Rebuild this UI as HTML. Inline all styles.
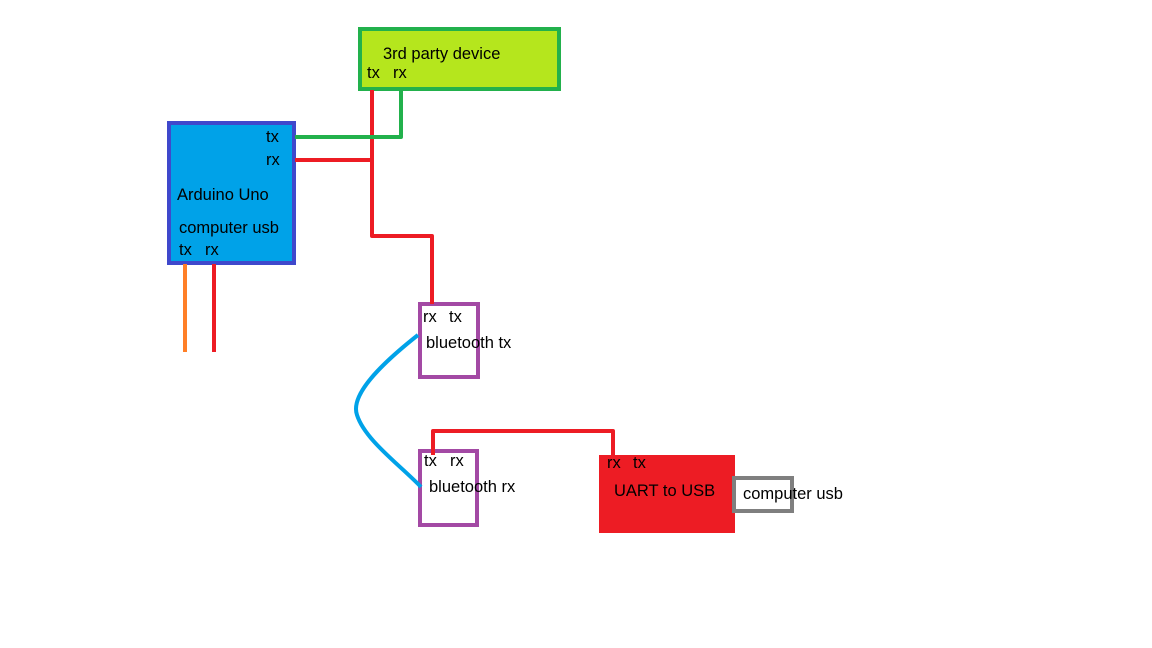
<!DOCTYPE html>
<html><head><style>
body{margin:0;width:1152px;height:648px;background:#fff;position:relative;overflow:hidden;font-family:"Liberation Sans",sans-serif;font-size:16.5px;color:#000}
.b{position:absolute;box-sizing:border-box}
.t{position:absolute;white-space:nowrap;line-height:18px}
svg{position:absolute;left:0;top:0}
</style></head><body>
<div class="b" style="left:358px;top:27px;width:203px;height:64px;background:#b5e61d;border:4px solid #22b14c"></div>
<div class="b" style="left:167px;top:121px;width:129px;height:144px;background:#00a2e8;border:4px solid #3f48cc"></div>
<div class="b" style="left:418px;top:302px;width:62px;height:77px;border:4px solid #a349a4"></div>
<div class="b" style="left:418px;top:449px;width:61px;height:78px;border:4px solid #a349a4"></div>
<div class="b" style="left:599px;top:455px;width:136px;height:78px;background:#ed1c24"></div>
<div class="b" style="left:732px;top:476px;width:62px;height:37px;border:4px solid #7f7f7f;background:#fff"></div>
<svg width="1152" height="648">
<g fill="none" stroke-width="4" stroke-linejoin="round">
<polyline points="372,90 372,236 432,236 432,304" stroke="#ed1c24"/>
<polyline points="401,90 401,137 295,137" stroke="#22b14c"/>
<polyline points="295,160 374,160" stroke="#ed1c24"/>
<line x1="185" y1="264" x2="185" y2="352" stroke="#ff7f27"/>
<line x1="214" y1="264" x2="214" y2="352" stroke="#ed1c24"/>
<polyline points="433,455 433,431 613,431 613,456" stroke="#ed1c24"/>
<path d="M418,335 C380,365 350,395 357,415 C365,440 400,465 421,487" stroke="#00a2e8"/>
</g></svg>
<div class="t" style="left:383px;top:45px">3rd party device</div>
<div class="t" style="left:367px;top:64px">tx</div>
<div class="t" style="left:393px;top:64px">rx</div>
<div class="t" style="left:266px;top:128px">tx</div>
<div class="t" style="left:266px;top:151px">rx</div>
<div class="t" style="left:177px;top:186px">Arduino Uno</div>
<div class="t" style="left:179px;top:219px">computer usb</div>
<div class="t" style="left:179px;top:241px">tx</div>
<div class="t" style="left:205px;top:241px">rx</div>
<div class="t" style="left:423px;top:308px">rx</div>
<div class="t" style="left:449px;top:308px">tx</div>
<div class="t" style="left:426px;top:334px">bluetooth tx</div>
<div class="t" style="left:424px;top:452px">tx</div>
<div class="t" style="left:450px;top:452px">rx</div>
<div class="t" style="left:429px;top:478px">bluetooth rx</div>
<div class="t" style="left:607px;top:454px">rx</div>
<div class="t" style="left:633px;top:454px">tx</div>
<div class="t" style="left:614px;top:482px">UART to USB</div>
<div class="t" style="left:743px;top:485px">computer usb</div>
</body></html>
